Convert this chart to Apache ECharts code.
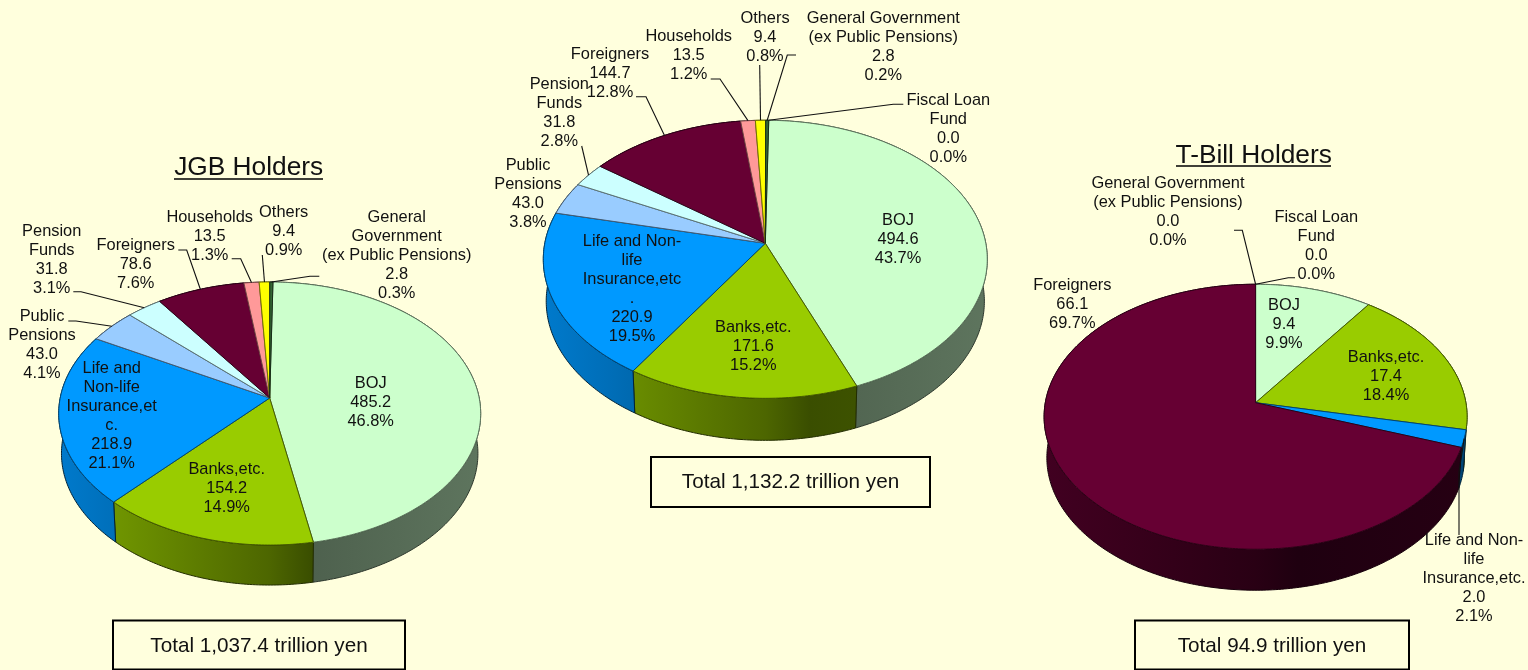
<!DOCTYPE html>
<html><head><meta charset="utf-8">
<style>html,body{margin:0;padding:0;background:#FFFFDD}#c{width:1528px;height:670px}</style>
<script src="https://cdn.jsdelivr.net/npm/echarts@6/dist/echarts.min.js"></script>
</head><body><div id="c"></div>
<script>
// ---------- data ----------
const jgbKeys   = ['boj','banks','life','pubpen','penfund','foreign','house','others','gov'];
const jgbNames  = ['BOJ','Banks,etc.','Life and\nNon-life\nInsurance,et\nc.','Public\nPensions','Pension\nFunds','Foreigners','Households','Others','General\nGovernment\n(ex Public Pensions)'];
const jgbValues = [485.2,154.2,218.9,43.0,31.8,78.6,13.5,9.4,2.8];
const jgbShown  = ['485.2','154.2','218.9','43.0','31.8','78.6','13.5','9.4','2.8'];
const jgbPct    = ['46.8%','14.9%','21.1%','4.1%','3.1%','7.6%','1.3%','0.9%','0.3%'];

const allKeys   = ['boj','banks','life','pubpen','penfund','foreign','house','others','gov','fiscal'];
const allNames  = ['BOJ','Banks,etc.','Life and Non-\nlife\nInsurance,etc\n.','Public\nPensions','Pension\nFunds','Foreigners','Households','Others','General Government\n(ex Public Pensions)','Fiscal Loan\nFund'];
const allValues = [494.6,171.6,220.9,43.0,31.8,144.7,13.5,9.4,2.8,0.0];
const allShown  = ['494.6','171.6','220.9','43.0','31.8','144.7','13.5','9.4','2.8','0.0'];
const allPct    = ['43.7%','15.2%','19.5%','3.8%','2.8%','12.8%','1.2%','0.8%','0.2%','0.0%'];

const tbKeys    = ['boj','banks','life','foreign','gov','fiscal'];
const tbNames   = ['BOJ','Banks,etc.','Life and Non-\nlife\nInsurance,etc.','Foreigners','General Government\n(ex Public Pensions)','Fiscal Loan\nFund'];
const tbValues  = [9.4,17.4,2.0,66.1,0.0,0.0];
const tbShown   = ['9.4','17.4','2.0','66.1','0.0','0.0'];
const tbPct     = ['9.9%','18.4%','2.1%','69.7%','0.0%','0.0%'];

const titles = ['JGB Holders','T-Bill Holders'];
const totals = ['Total 1,037.4 trillion yen','Total 1,132.2 trillion yen','Total 94.9 trillion yen'];

// ---------- styles and layout ----------
const FONT = '"Liberation Sans", Arial, sans-serif';
const BG = '#FFFFDD';
const sliceColors = {boj:[204,255,204],banks:[153,204,0],life:[0,153,255],pubpen:[153,204,255],penfund:[204,255,255],
  foreign:[102,0,51],house:[255,153,153],others:[255,255,0],gov:[51,102,51],fiscal:[51,102,51]};
const sideDim = {foreign:.8};

// label block centres, index aligned with the keys of each pie
const jgbLabelPos = [[370.7,402],[226.7,488.7],[111.7,416],[42,344.7],[51.7,259.7],[135.7,264.7],[209.7,236.7],[283.7,231.7],[396.7,255.7]];
const allLabelPos = [[898,239],[753.3,346],[632,288.5],[528,193.7],[559.3,112.7],[610,73],[688.7,55.3],[765,37.7],[883.3,47],[948.3,129]];
const tbLabelPos  = [[1284,324.3],[1386,376],[1474,578.7],[1072.3,304.3],[1168,212],[1316.3,246.3]];
// leader paths that run from a label towards the rim of its slice
const jgbLeaders = [null,null,null,[[68.3,321],[76,321]],[[73.3,291.7],[81,291.7]],[[178.3,250],[186.7,250]],[[231.7,258.7],[240.7,258.7]],[[262.3,255]],[[319.3,276.3],[310,276.3]]];
const allLeaders = [null,null,null,null,[[581.7,146]],[[636,96.7],[646,96.7]],[[710.7,79],[720,79]],[[759.7,65]],[[796,55],[787.3,55]],[[903.3,104.3],[893.3,104.3]]];
const tbLeaders  = [null,null,[[1459,535],[1459,472]],null,[[1234,230.3],[1242.3,230.3]],[[1295,277.7],[1288.3,277.7]]];

const pies = [
 {keys:jgbKeys,names:jgbNames,vals:jgbValues,shown:jgbShown,pct:jgbPct,pos:jgbLabelPos,lead:jgbLeaders,cx:269.7,cy:398,rx:209.5,ry:129.7,k:.118,d:40,s:.987,start:1},
 {keys:allKeys,names:allNames,vals:allValues,shown:allShown,pct:allPct,pos:allLabelPos,lead:allLeaders,cx:765.3,cy:243.3,rx:220.5,ry:137.2,k:.115,d:42,s:.987,start:1},
 {keys:tbKeys,names:tbNames,vals:tbValues,shown:tbShown,pct:tbPct,pos:tbLabelPos,lead:tbLeaders,cx:1255.6,cy:402.7,rx:210.3,ry:131,k:.106,d:41,s:.987,start:0}
];

// ---------- perspective pie geometry ----------
function pt(p,deg,bottom){
  const r=deg*Math.PI/180,u=Math.sin(r),v=-Math.cos(r),w=1-p.k*v;
  const x=u*p.rx/w,y=v*p.ry/w;
  return bottom?[p.cx+x*p.s,p.cy+y+p.d]:[p.cx+x,p.cy+y];
}
function angles(p,i){
  const total=p.vals.reduce((a,b)=>a+b,0);
  let cum=0;for(let j=0;j<i;j++)cum+=p.vals[j];
  return [p.start+cum/total*360,p.start+(cum+p.vals[i])/total*360];
}
function arc(p,a0,a1,bottom){
  const n=Math.max(2,Math.ceil((a1-a0)/0.75)),o=[];
  for(let i=0;i<=n;i++)o.push(pt(p,a0+(a1-a0)*i/n,bottom));
  return o;
}
const rgb=(c,f,a)=>`rgba(${Math.round(c[0]*f)},${Math.round(c[1]*f)},${Math.round(c[2]*f)},${a===undefined?1:a})`;
const shade=[[0,.8],[.15,.72],[.5,.5],[.6,.38],[1,.46]];
function sideFill(p,c,dim){
  const w=p.rx*1.01;
  return new echarts.graphic.LinearGradient(p.cx-w,0,p.cx+w,0,shade.map(s=>({offset:s[0],color:rgb(c,s[1]*dim)})),true);
}

const series=[];
pies.forEach(p=>{
  series.push({type:'custom',coordinateSystem:'none',silent:true,animation:false,data:p.vals.map(v=>[v]),
    renderItem:(params,api)=>{
      const i=params.dataIndex,[a0,a1]=angles(p,i);
      if(api.value(0)<=0)return {type:'group',children:[]};
      const key=p.keys[i],c=sliceColors[key];
      const pts=arc(p,a0,a1,false).concat(arc(p,a0,a1,true).reverse());
      return {type:'polygon',shape:{points:pts},style:{fill:sideFill(p,c,sideDim[key]||1),stroke:rgb(c,.22),lineWidth:1}};
    }});
});
pies.forEach(p=>{
  series.push({type:'custom',coordinateSystem:'none',silent:true,animation:false,data:p.vals.map(v=>[v]),
    renderItem:(params,api)=>{
      const i=params.dataIndex,[a0,a1]=angles(p,i);
      if(api.value(0)<=0)return {type:'group',children:[]};
      const c=sliceColors[p.keys[i]];
      const pts=[[p.cx,p.cy]].concat(arc(p,a0,a1,false));
      return {type:'polygon',shape:{points:pts},style:{fill:rgb(c,1),stroke:rgb(c,.45),lineWidth:1}};
    }});
});
pies.forEach(p=>{
  series.push({type:'custom',coordinateSystem:'none',silent:true,animation:false,data:p.vals.map(v=>[v]),
    renderItem:(params,api)=>{
      const i=params.dataIndex,[a0,a1]=angles(p,i),ch=[];
      if(p.lead[i]){
        ch.push({type:'polyline',shape:{points:p.lead[i].concat([pt(p,(a0+a1)/2,false)])},style:{fill:null,stroke:'#111',lineWidth:1.1}});
      }
      ch.push({type:'text',x:p.pos[i][0],y:p.pos[i][1],style:{text:p.names[i]+'\n'+p.shown[i]+'\n'+p.pct[i],
        font:'16.4px '+FONT,lineHeight:19,fill:'#111',align:'center',verticalAlign:'middle'}});
      return {type:'group',children:ch};
    }});
});

const boxes=[[113,620.5,292,49],[651,457,279,50],[1135,620.5,274,49]];
const graphic=[];
boxes.forEach((b,i)=>{
  graphic.push({type:'rect',silent:true,shape:{x:b[0],y:b[1],width:b[2],height:b[3]},style:{fill:BG,stroke:'#000',lineWidth:2}});
  graphic.push({type:'text',silent:true,x:b[0]+b[2]/2,y:b[1]+25.5,style:{text:totals[i],font:'20.7px '+FONT,fill:'#111',align:'center',verticalAlign:'middle'}});
});
graphic.push({type:'line',silent:true,shape:{x1:174,y1:179,x2:323,y2:179},style:{stroke:'#000',lineWidth:1.6}});
graphic.push({type:'line',silent:true,shape:{x1:1176,y1:166,x2:1331,y2:166},style:{stroke:'#000',lineWidth:1.6}});

const chart=echarts.init(document.getElementById('c'),null,{renderer:'canvas'});
chart.setOption({
  animation:false,backgroundColor:BG,
  title:[
   {text:titles[0],left:248.7,top:154.5,textAlign:'center',padding:0,textStyle:{fontFamily:FONT,fontSize:26.3,fontWeight:'normal',color:'#111'}},
   {text:titles[1],left:1253.7,top:143,textAlign:'center',padding:0,textStyle:{fontFamily:FONT,fontSize:26.3,fontWeight:'normal',color:'#111'}}
  ],
  series,graphic
});
</script></body></html>
